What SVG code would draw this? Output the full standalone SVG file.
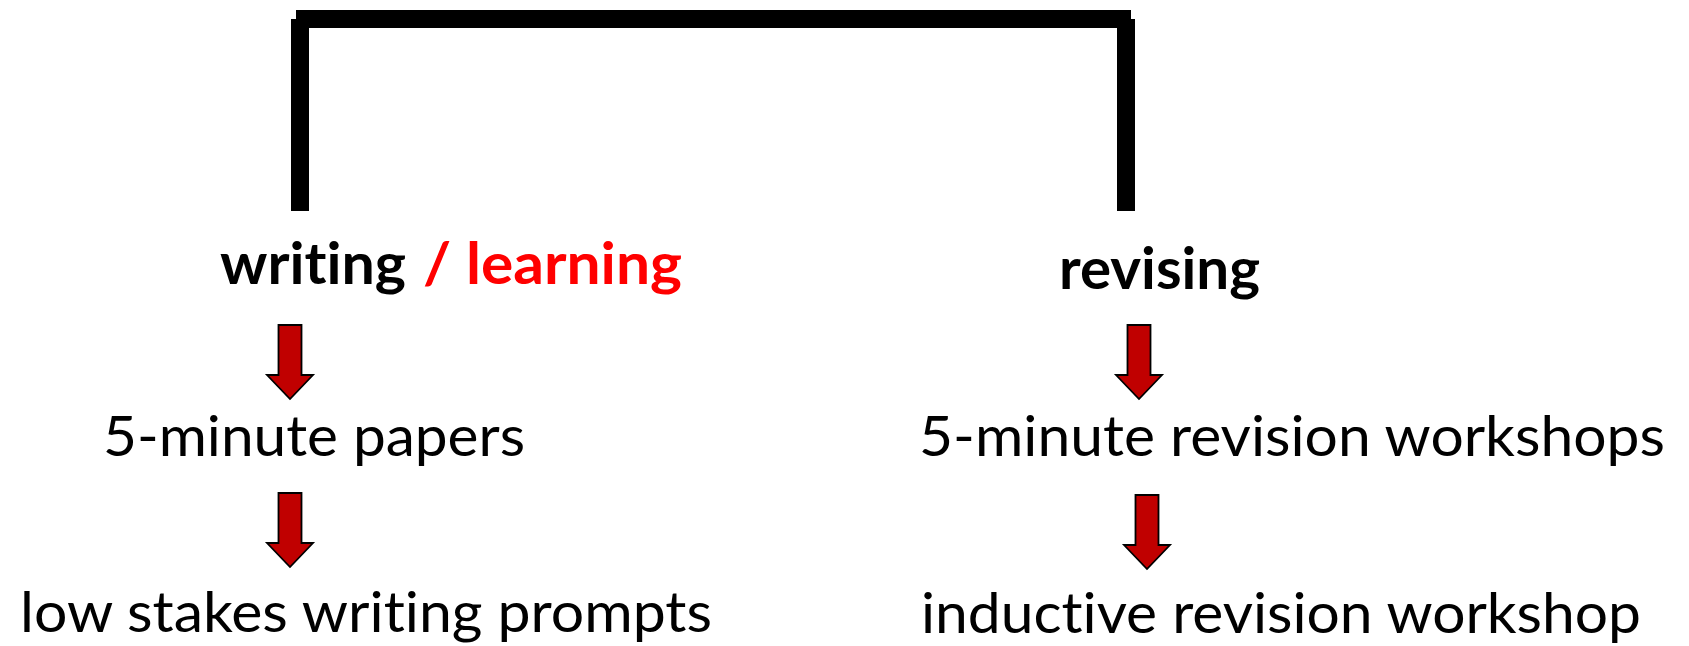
<svg xmlns="http://www.w3.org/2000/svg" width="1689" height="646" viewBox="0 0 1689 646">
  <style>
    .t { font-family: Lato, "Liberation Sans", sans-serif; font-size: 57px; fill: #000; font-variant-ligatures: none; font-feature-settings: "liga" 0, "clig" 0, "dlig" 0; }
    .b { font-weight: bold; }
    .red { fill: #FF0000; }
    .arrow { fill: #C00000; stroke: #000; stroke-width: 1.8; stroke-linejoin: miter; }
    .bracket { stroke: #000; stroke-width: 18; fill: none; stroke-linecap: butt; }
  </style>
  <defs>
    <path id="downArrow" class="arrow" d="M -11.5 -74 L 11.5 -74 L 11.5 -24 L 23 -24 L 0 0 L -23 -24 L -11.5 -24 Z"/>
  </defs>
  <rect width="1689" height="646" fill="#fff"/>

  <g id="connectors">
    <line class="bracket" x1="296" y1="19" x2="1131" y2="19"/>
    <line class="bracket" x1="300" y1="19" x2="300" y2="211"/>
    <line class="bracket" x1="1126" y1="19" x2="1126" y2="211"/>
    <use href="#downArrow" x="290" y="399"/>
    <use href="#downArrow" x="290" y="567"/>
    <use href="#downArrow" x="1139" y="399"/>
    <use href="#downArrow" x="1147" y="569"/>
  </g>

  <g id="node-writing">
    <text class="t b" x="220" y="284" textLength="186" lengthAdjust="spacingAndGlyphs">writing</text>
    <text class="t b red" x="423" y="284" textLength="259" lengthAdjust="spacingAndGlyphs">/ learning</text>
  </g>
  <g id="node-revising">
    <text class="t b" x="1059" y="289" textLength="201" lengthAdjust="spacingAndGlyphs">revising</text>
  </g>
  <g id="node-papers">
    <text class="t" x="103" y="456" textLength="422" lengthAdjust="spacingAndGlyphs">5-minute papers</text>
  </g>
  <g id="node-prompts">
    <text class="t" x="20" y="632" textLength="692" lengthAdjust="spacingAndGlyphs">low stakes writing prompts</text>
  </g>
  <g id="node-workshops">
    <text class="t" x="919" y="456" textLength="746" lengthAdjust="spacingAndGlyphs">5-minute revision workshops</text>
  </g>
  <g id="node-inductive">
    <text class="t" x="921" y="633" textLength="720" lengthAdjust="spacingAndGlyphs">inductive revision workshop</text>
  </g>
</svg>
